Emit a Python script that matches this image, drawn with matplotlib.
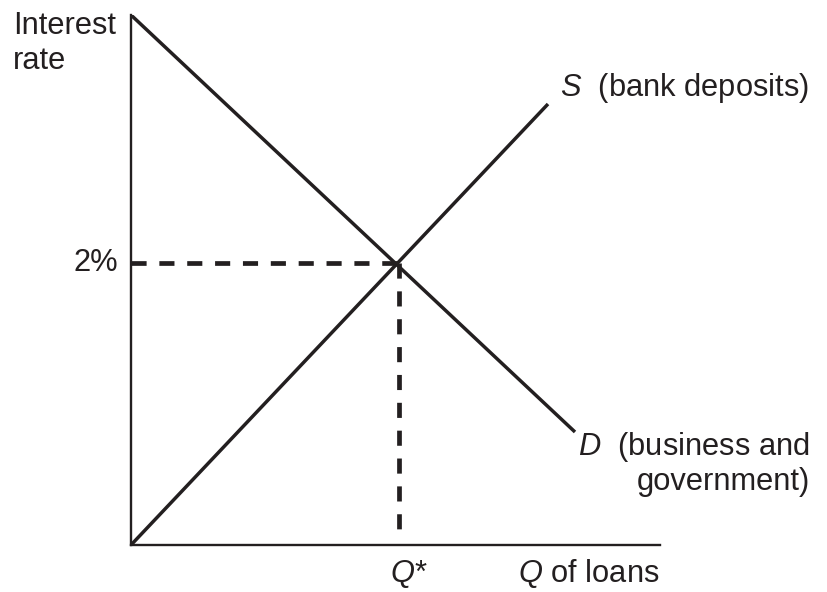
import matplotlib.pyplot as plt

# quantities in axis units (origin at the corner of the axes)
demand_x = [0, 444]
demand_y = [530, 113]
supply_x = [0, 417]
supply_y = [0, 441]
q_star = 268
rate_star = 282

plt.rcParams['font.family'] = ['Liberation Sans', 'DejaVu Sans']
plt.rcParams['mathtext.fontset'] = 'custom'
plt.rcParams['mathtext.it'] = 'Liberation Sans:italic'
plt.rcParams['mathtext.rm'] = 'Liberation Sans'
fs = 22.2
ink = '#231f20'

fig = plt.figure(figsize=(8.28, 5.92), dpi=100)
ax = fig.add_axes([131 / 828, 47 / 592, 529 / 828, 530 / 592])
ax.set_xlim(0, 529)
ax.set_ylim(0, 530)

ax.plot(demand_x, demand_y, color=ink, lw=2.5, solid_capstyle='butt')
ax.plot(supply_x, supply_y, color=ink, lw=2.5, solid_capstyle='butt')
ax.plot([0, q_star], [rate_star, rate_star], color=ink, lw=3.4, dashes=(3.2, 2.7))
ax.plot([q_star, q_star], [rate_star, 8], color=ink, lw=3.4, dashes=(3.2, 2.7))

for side in ['top', 'right']:
    ax.spines[side].set_visible(False)
for side in ['left', 'bottom']:
    ax.spines[side].set_linewidth(1.7)
    ax.spines[side].set_color(ink)
ax.set_xticks([])
ax.set_yticks([])

# labels
fig.text(13 / 828, 1 - 11 / 592, 'Interest\nrate', fontsize=fs, color=ink,
         ha='left', va='top', linespacing=1.2)
ax.text(-13, rate_star, '2%', fontsize=fs, color=ink, ha='right', va='center')
ax.text(q_star + 10, -29, '$\\mathit{Q}$*', fontsize=fs, color=ink, ha='center', va='center')
ax.text(387, -29, '$\\mathit{Q}$ of loans', fontsize=fs, color=ink, ha='left', va='center')
ax.text(429, 457, '$\\mathit{S}$  (bank deposits)', fontsize=fs, color=ink,
        ha='left', va='center')
ax.text(679, 98, '$\\mathit{D}$  (business and', fontsize=fs, color=ink,
        ha='right', va='center')
ax.text(679, 63, 'government)', fontsize=fs, color=ink, ha='right', va='center')

plt.savefig('out.png', dpi=100)
